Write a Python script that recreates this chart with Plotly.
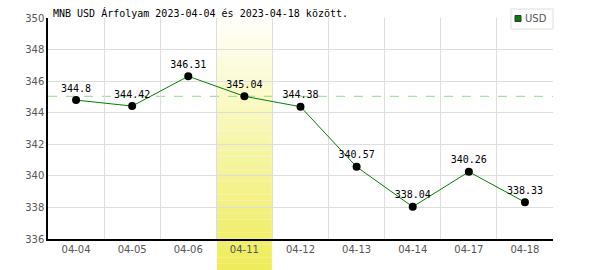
import plotly.graph_objects as go

categories = ["04-04", "04-05", "04-06", "04-11", "04-12", "04-13", "04-14", "04-17", "04-18"]
values = [344.8, 344.42, 346.31, 345.04, 344.38, 340.57, 338.04, 340.26, 338.33]
value_labels = ["344.8", "344.42", "346.31", "345.04", "344.38", "340.57", "338.04", "340.26", "338.33"]
highlight_idx = 3
series_name = "USD"
title_text = "MNB USD Árfolyam 2023-04-04 és 2023-04-18 között."

mono = "DejaVu Sans Mono"
xs = list(range(len(categories)))

W, H = 600, 270
ML, MR, MT, MB = 48, 47, 18, 31
PW, PH = W - ML - MR, H - MT - MB


def px(xp):
    return (xp - ML) / PW


def py(yp):
    return 1 - (yp - MT) / PH


fig = go.Figure()

# highlight band with vertical gradient (white -> yellow)
n_strips = 40
top_c = (255, 255, 250)
bot_c = (238, 236, 88)
y_top, y_bot = 1.0, py(H)
for i in range(n_strips):
    f0 = i / n_strips
    f1 = (i + 1) / n_strips
    fm = (f0 + f1) / 2
    c = tuple(round(top_c[k] + (bot_c[k] - top_c[k]) * fm) for k in range(3))
    fig.add_shape(type="rect", xref="x", yref="paper",
                  x0=highlight_idx - 0.5 + 0.01, x1=highlight_idx + 0.5 - 0.01,
                  y0=y_top + (y_bot - y_top) * f1, y1=y_top + (y_bot - y_top) * f0,
                  fillcolor="rgb(%d,%d,%d)" % c, line_width=0, layer="below")

# reference dashed line at highlighted value
fig.add_shape(type="line", xref="paper", yref="y", x0=0, x1=1,
              y0=values[highlight_idx], y1=values[highlight_idx],
              line=dict(color="#8fd88f", width=1, dash="dash"), layer="below")

fig.add_trace(go.Scatter(
    x=xs, y=values, mode="lines+markers+text",
    line=dict(color="#008000", width=1),
    marker=dict(color="black", size=8),
    text=value_labels, textposition="top center",
    textfont=dict(family=mono, size=10, color="black"),
    showlegend=False, cliponaxis=False,
))

# title
fig.add_annotation(text=title_text, xref="paper", yref="paper", x=px(51), y=1,
                   xanchor="left", yanchor="bottom", yshift=-3, showarrow=False,
                   font=dict(family=mono, size=10, color="black"))

# legend box drawn manually
fig.add_shape(type="rect", xref="paper", yref="paper",
              x0=px(511), x1=px(553), y0=py(29), y1=py(9),
              fillcolor="white", line=dict(color="#dddddd", width=1), layer="above")
fig.add_shape(type="rect", xref="paper", yref="paper",
              x0=px(515), x1=px(521), y0=py(21.5), y1=py(15.5),
              fillcolor="#008000", line=dict(color="#333333", width=1), layer="above")
fig.add_annotation(text=series_name, xref="paper", yref="paper", x=px(522.5), y=py(19),
                   xanchor="left", yanchor="middle", showarrow=False,
                   font=dict(family="DejaVu Sans", size=10, color="#555"))

fig.update_layout(
    width=W, height=H,
    margin=dict(l=ML, r=MR, t=MT, b=MB),
    paper_bgcolor="white", plot_bgcolor="rgba(0,0,0,0)",
    showlegend=False,
)
fig.update_xaxes(
    range=[-0.5, len(categories) - 0.5],
    tickvals=xs, ticktext=categories, showgrid=False,
    minor=dict(tick0=0.5, dtick=1, showgrid=True, gridcolor="#dddddd", gridwidth=1, ticklen=0),
    showline=True, linecolor="black", linewidth=1.5, ticks="",
    tickfont=dict(family="DejaVu Sans", size=10, color="#555"),
    zeroline=False, fixedrange=True,
)
fig.update_yaxes(
    range=[336, 350], dtick=2, showgrid=True, gridcolor="#dddddd",
    showline=True, linecolor="black", linewidth=1.5, ticks="",
    tickfont=dict(family="DejaVu Sans", size=10, color="#555"),
    zeroline=False,
)

fig.write_html("out.html")
